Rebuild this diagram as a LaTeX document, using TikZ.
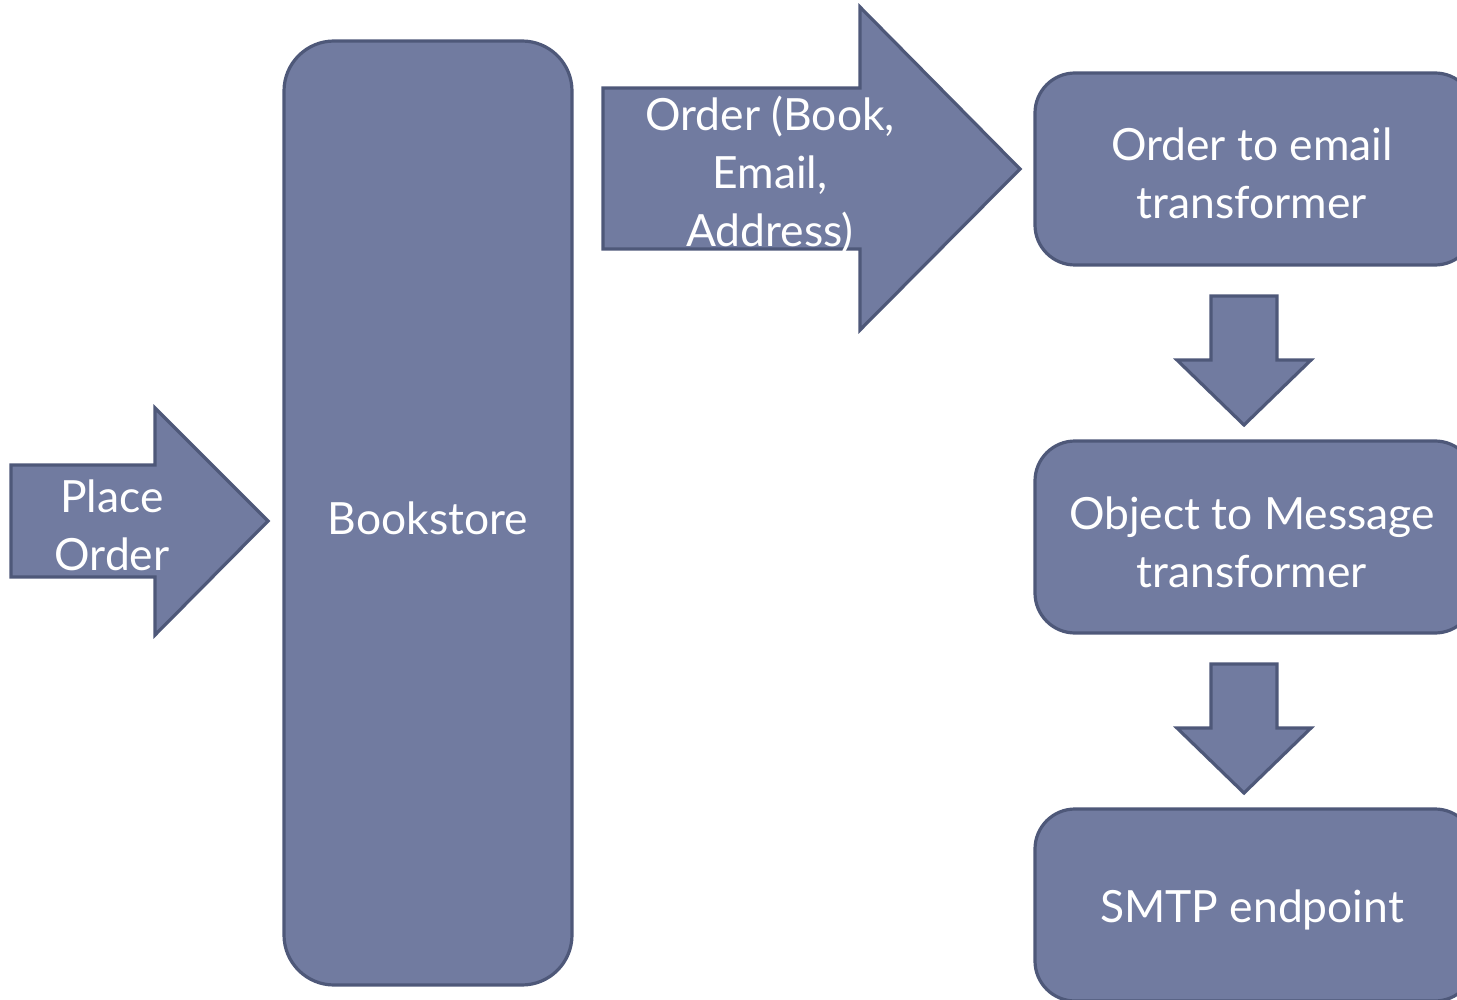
\documentclass[tikz,border=0pt]{standalone}
\usepackage{fontspec}
\setmainfont{Lato}
\definecolor{shapefill}{HTML}{717BA0}
\definecolor{shapeline}{HTML}{4E5879}
\begin{document}
\begin{tikzpicture}[x=0.5pt,y=-0.5pt,
  blockshape/.style={fill=shapefill,draw=shapeline,line width=1.6pt,line join=miter},
  stage/.style={blockshape,rounded corners=20pt},
  lbl/.style={text=white,align=center,font=\fontsize{22.2}{29}\selectfont,inner sep=0pt}]
\useasboundingbox (0,0) rectangle (1457,1000);
\clip (0,0) rectangle (1457,1000);
% incoming request arrow
\draw[blockshape] (11,465) -- (155,465) -- (155,408) -- (268,521) -- (155,635) -- (155,577) -- (11,577) -- cycle;
\node[lbl] (place) at (112,525) {Place\\Order};
% the bookstore application
\draw[stage,rounded corners=25pt] (284,41) rectangle (572,985);
\node[lbl] (bookstore) at (428,518) {Bookstore};
% order message arrow
\draw[blockshape] (603,88) -- (860,88) -- (860,7) -- (1020,169) -- (860,330) -- (860,249) -- (603,249) -- cycle;
\node[lbl] (order) at (770,175) {Order (Book,\\Email,\\Address)};
% pipeline stages
\draw[stage] (1035,73) rectangle (1475,265);
\node[lbl] (toemail) at (1252,173) {Order to email\\transformer};
\draw[blockshape] (1211,296) -- (1277,296) -- (1277,360) -- (1311,360) -- (1244,425) -- (1177,360) -- (1211,360) -- cycle;
\draw[stage] (1035,441) rectangle (1475,633);
\node[lbl] (tomsg) at (1252,542) {Object to Message\\transformer};
\draw[blockshape] (1211,664) -- (1277,664) -- (1277,728) -- (1311,728) -- (1244,793) -- (1177,728) -- (1211,728) -- cycle;
\draw[stage] (1035,809) rectangle (1475,1001);
\node[lbl] (smtp) at (1252,910) {SMTP endpoint};
\end{tikzpicture}
\end{document}
